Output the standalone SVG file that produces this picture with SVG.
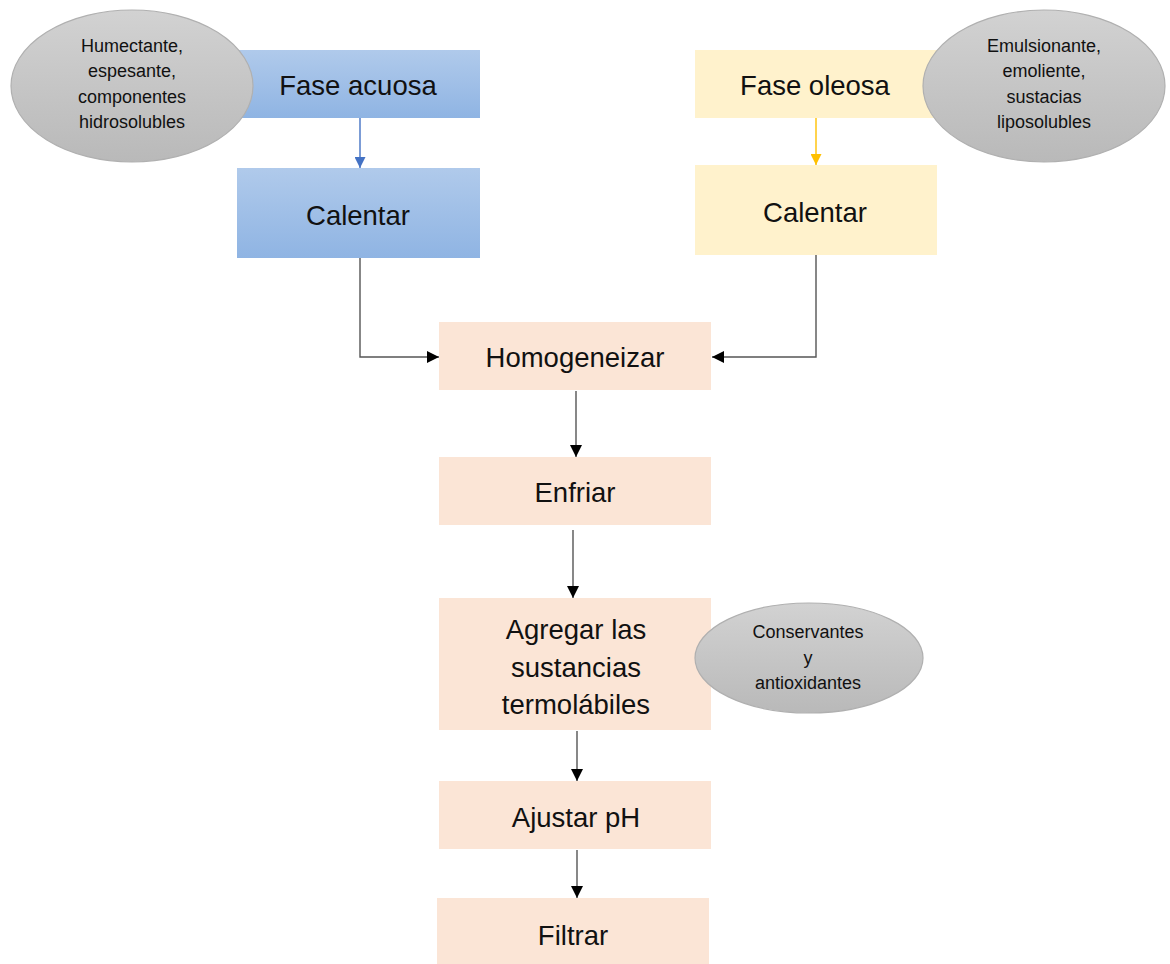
<svg xmlns="http://www.w3.org/2000/svg" width="1170" height="964" viewBox="0 0 1170 964">
<style>
text{font-family:"Liberation Sans","DejaVu Sans",sans-serif;fill:#111;text-anchor:middle}
.big{font-size:27.5px}
.small{font-size:18px}
.peach{fill:#fbe5d6}
.yellow{fill:#fff2cc}
.ell{fill:url(#gGray);stroke:#b0b0b0;stroke-width:1.2}
.conn{fill:none;stroke:#555;stroke-width:1.4}
</style>
<defs>
<linearGradient id="gBlue" x1="0" y1="0" x2="0" y2="1"><stop offset="0" stop-color="#b0caeb"/><stop offset="1" stop-color="#8fb4e3"/></linearGradient>
<linearGradient id="gGray" x1="0" y1="0" x2="0" y2="1"><stop offset="0" stop-color="#d2d2d2"/><stop offset="1" stop-color="#b9b9b9"/></linearGradient>
<marker id="aBlack" viewBox="0 0 10 10" refX="10" refY="5" markerWidth="12" markerHeight="12" markerUnits="userSpaceOnUse" orient="auto"><path d="M0,0L10,5L0,10z" fill="#000"/></marker>
<marker id="aBlue" viewBox="0 0 10 10" refX="10" refY="5" markerWidth="11" markerHeight="11" markerUnits="userSpaceOnUse" orient="auto"><path d="M0,0L10,5L0,10z" fill="#4472c4"/></marker>
<marker id="aGold" viewBox="0 0 10 10" refX="10" refY="5" markerWidth="11" markerHeight="11" markerUnits="userSpaceOnUse" orient="auto"><path d="M0,0L10,5L0,10z" fill="#ffc000"/></marker>
</defs>
<g id="connectors">
<line x1="360" y1="118" x2="360" y2="168" stroke="#4472c4" stroke-width="1.4" marker-end="url(#aBlue)"/>
<line x1="816" y1="118" x2="816" y2="165" stroke="#ffc000" stroke-width="1.4" marker-end="url(#aGold)"/>
<path class="conn" d="M360,258V357H439" marker-end="url(#aBlack)"/>
<path class="conn" d="M816,255V357H712" marker-end="url(#aBlack)"/>
<line class="conn" x1="576" y1="391" x2="576" y2="457" marker-end="url(#aBlack)"/>
<line class="conn" x1="573" y1="530" x2="573" y2="598" marker-end="url(#aBlack)"/>
<line class="conn" x1="577" y1="731" x2="577" y2="781" marker-end="url(#aBlack)"/>
<line class="conn" x1="577" y1="850" x2="577" y2="898" marker-end="url(#aBlack)"/>
</g>
<g id="fase-acuosa"><rect x="237" y="50" width="243" height="68" fill="url(#gBlue)"/><text class="big" x="358" y="95">Fase acuosa</text></g>
<g id="calentar-acuosa"><rect x="237" y="168" width="243" height="90" fill="url(#gBlue)"/><text class="big" x="358" y="225">Calentar</text></g>
<g id="fase-oleosa"><rect x="695" y="50" width="242" height="68" class="yellow"/><text class="big" x="815" y="95">Fase oleosa</text></g>
<g id="calentar-oleosa"><rect x="695" y="165" width="242" height="90" class="yellow"/><text class="big" x="815" y="222">Calentar</text></g>
<g id="nota-acuosa"><ellipse cx="132" cy="86" rx="121" ry="76" class="ell"/><text class="small" x="132" y="52">Humectante,</text><text class="small" x="132" y="77">espesante,</text><text class="small" x="132" y="103">componentes</text><text class="small" x="132" y="128">hidrosolubles</text></g>
<g id="nota-oleosa"><ellipse cx="1044" cy="86" rx="121" ry="76" class="ell"/><text class="small" x="1044" y="52">Emulsionante,</text><text class="small" x="1044" y="77">emoliente,</text><text class="small" x="1044" y="103">sustacias</text><text class="small" x="1044" y="128">liposolubles</text></g>
<g id="homogeneizar"><rect x="439" y="322" width="272" height="68" class="peach"/><text class="big" x="575" y="367">Homogeneizar</text></g>
<g id="enfriar"><rect x="439" y="457" width="272" height="68" class="peach"/><text class="big" x="575" y="502">Enfriar</text></g>
<g id="agregar"><rect x="439" y="598" width="272" height="132" class="peach"/><text class="big" x="576" y="639">Agregar las</text><text class="big" x="576" y="677">sustancias</text><text class="big" x="576" y="714">termolábiles</text></g>
<g id="nota-conservantes"><ellipse cx="809" cy="658" rx="114" ry="55" class="ell"/><text class="small" x="808" y="638">Conservantes</text><text class="small" x="808" y="664">y</text><text class="small" x="808" y="689">antioxidantes</text></g>
<g id="ajustar-ph"><rect x="439" y="781" width="272" height="68" class="peach"/><text class="big" x="576" y="827">Ajustar pH</text></g>
<g id="filtrar"><rect x="437" y="898" width="272" height="66" class="peach"/><text class="big" x="573" y="945">Filtrar</text></g>
</svg>
